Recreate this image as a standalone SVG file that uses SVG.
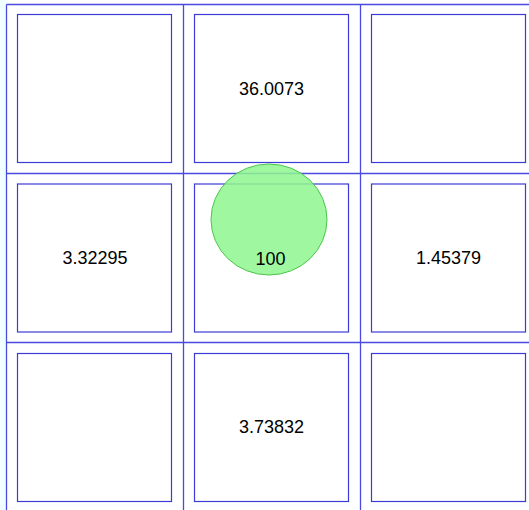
<svg xmlns="http://www.w3.org/2000/svg" width="529" height="510" viewBox="0 0 529 510">
<style>
.grid{stroke:#4a4ae0;stroke-width:1.3;fill:none}
.box{stroke:#3b3bd6;stroke-width:1.2;fill:#ffffff}
.lbl{font-family:"Liberation Sans",Arial,sans-serif;font-size:18px;fill:#000;text-anchor:middle}
</style>
<rect x="0" y="0" width="529" height="510" fill="#ffffff"/>
<rect x="0" y="0" width="6.5" height="510" fill="#f0ffff"/>
<g id="connectors">
<line class="grid" x1="6.5" y1="4.5" x2="6.5" y2="510"/>
<line class="grid" x1="183.5" y1="4.5" x2="183.5" y2="510"/>
<line class="grid" x1="360.5" y1="4.5" x2="360.5" y2="510"/>
<line class="grid" x1="6.5" y1="4.5" x2="529" y2="4.5"/>
<line class="grid" x1="6.5" y1="173.5" x2="529" y2="173.5"/>
<line class="grid" x1="6.5" y1="342.5" x2="529" y2="342.5"/>
</g>
<g id="cell00"><rect class="box" x="17.5" y="14.5" width="154" height="148"/></g>
<g id="cell01"><rect class="box" x="194.5" y="14.5" width="154" height="148"/><text class="lbl" x="271.5" y="95">36.0073</text></g>
<g id="cell02"><rect class="box" x="371.5" y="14.5" width="154" height="148"/></g>
<g id="cell10"><rect class="box" x="17.5" y="184" width="154" height="148"/><text class="lbl" x="95" y="264">3.32295</text></g>
<g id="cell11"><rect class="box" x="194.5" y="184" width="154" height="148"/></g>
<g id="cell12"><rect class="box" x="371.5" y="184" width="154" height="148"/><text class="lbl" x="448.5" y="264">1.45379</text></g>
<g id="cell20"><rect class="box" x="17.5" y="353.5" width="154" height="148"/></g>
<g id="cell21"><rect class="box" x="194.5" y="353.5" width="154" height="148"/><text class="lbl" x="271.5" y="433">3.73832</text></g>
<g id="cell22"><rect class="box" x="371.5" y="353.5" width="154" height="148"/></g>
<g id="agent"><ellipse cx="269" cy="219.5" rx="58" ry="55.5" fill="#8ef78e" fill-opacity="0.85" stroke="#4cc44c" stroke-width="1"/><text class="lbl" x="270.5" y="265">100</text></g>
</svg>
